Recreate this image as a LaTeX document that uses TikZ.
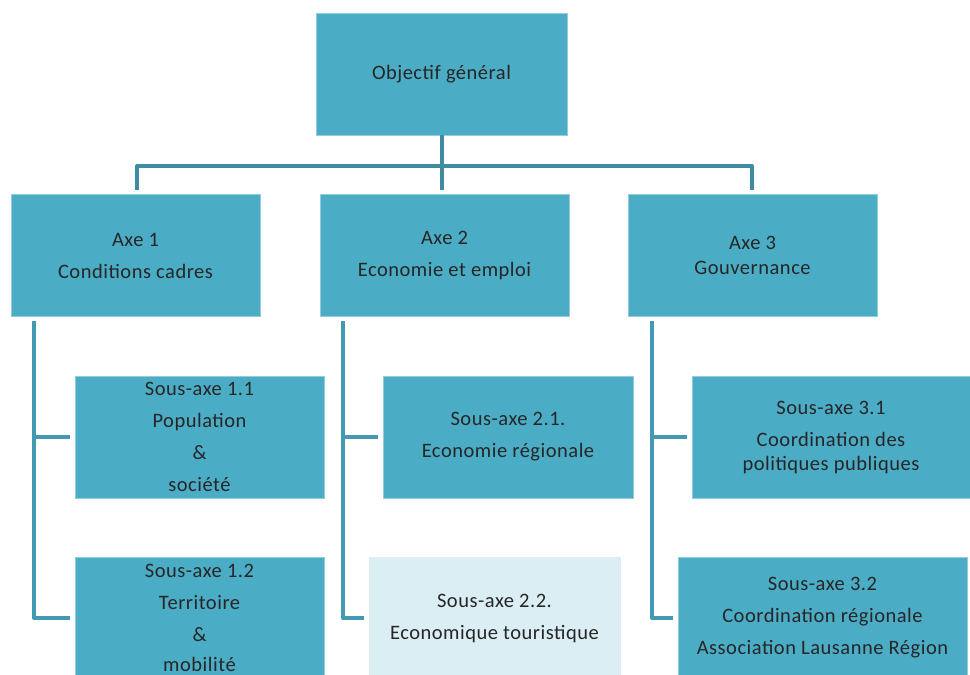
\documentclass[tikz,border=0pt]{standalone}
\usepackage{fontspec}
\setmainfont[LetterSpace=2.5]{Carlito}
\definecolor{boxblue}{HTML}{4BACC6}
\definecolor{boxlight}{HTML}{DAEEF3}
\definecolor{txt}{HTML}{262626}
\definecolor{topline}{HTML}{3F8CA0}
\definecolor{subline}{HTML}{4399B2}
\begin{document}
\begin{tikzpicture}[x=1pt,y=-1pt,
  box/.style={fill=boxblue,draw=boxblue!60!white,line width=0.6pt,inner sep=0pt,
    minimum width=249pt,minimum height=122pt,align=center,text=txt,
    font=\fontsize{20.5}{32}\selectfont},
  lightbox/.style={box,fill=boxlight,draw=boxlight},
  topconn/.style={draw=topline,line width=4pt,line join=round},
  subconn/.style={draw=subline,line width=4pt,line join=round,shorten >=5pt}]
\useasboundingbox (0,0) rectangle (970,675);
\node[box,minimum width=251pt] (obj) at (441.5,74) {Objectif général};
\node[box] (axe1) at (135.5,255.5) {Axe 1\\Conditions cadres};
\node[box] (axe2) at (444.5,255.5) {Axe 2\\Economie et emploi};
\node[box] (axe3) at (752.5,255.5) {Axe 3\\[-7pt]Gouvernance};
\node[box] (s11) at (199.5,437) {Sous-axe 1.1\\Population\\\&\\société};
\node[box] (s12) at (199.5,618) {Sous-axe 1.2\\Territoire\\\&\\[-2pt]mobilité};
\node[box,minimum width=250pt] (s21) at (508,437) {Sous-axe 2.1.\\Economie régionale};
\node[lightbox,minimum width=251pt] (s22) at (494.5,618) {Sous-axe 2.2.\\Economique touristique};
\node[box,minimum width=278pt] (s31) at (831,437) {Sous-axe 3.1\\Coordination des\\[-8pt]politiques publiques};
\node[box,minimum width=289pt] (s32) at (822.5,618) {Sous-axe 3.2\\Coordination régionale\\Association Lausanne Région};
% top connectors
\coordinate (bar) at (0,166);
\coordinate (t1) at (137,190);
\coordinate (t3) at (752,190);
\draw[topconn] (t1) |- (bar -| obj.south) -| (t3);
\draw[topconn] (obj.south) -- (obj.south |- t1);
% column connectors
\coordinate (c1) at (34,321);
\coordinate (c2) at (343,321);
\coordinate (c3) at (652,321);
\draw[subconn] (c1) |- (s12.west);
\draw[subconn] (c1 |- s11.west) -- (s11.west);
\draw[subconn] (c2) |- (s22.west);
\draw[subconn] (c2 |- s21.west) -- (s21.west);
\draw[subconn] (c3) |- (s32.west);
\draw[subconn] (c3 |- s31.west) -- (s31.west);
\end{tikzpicture}
\end{document}
